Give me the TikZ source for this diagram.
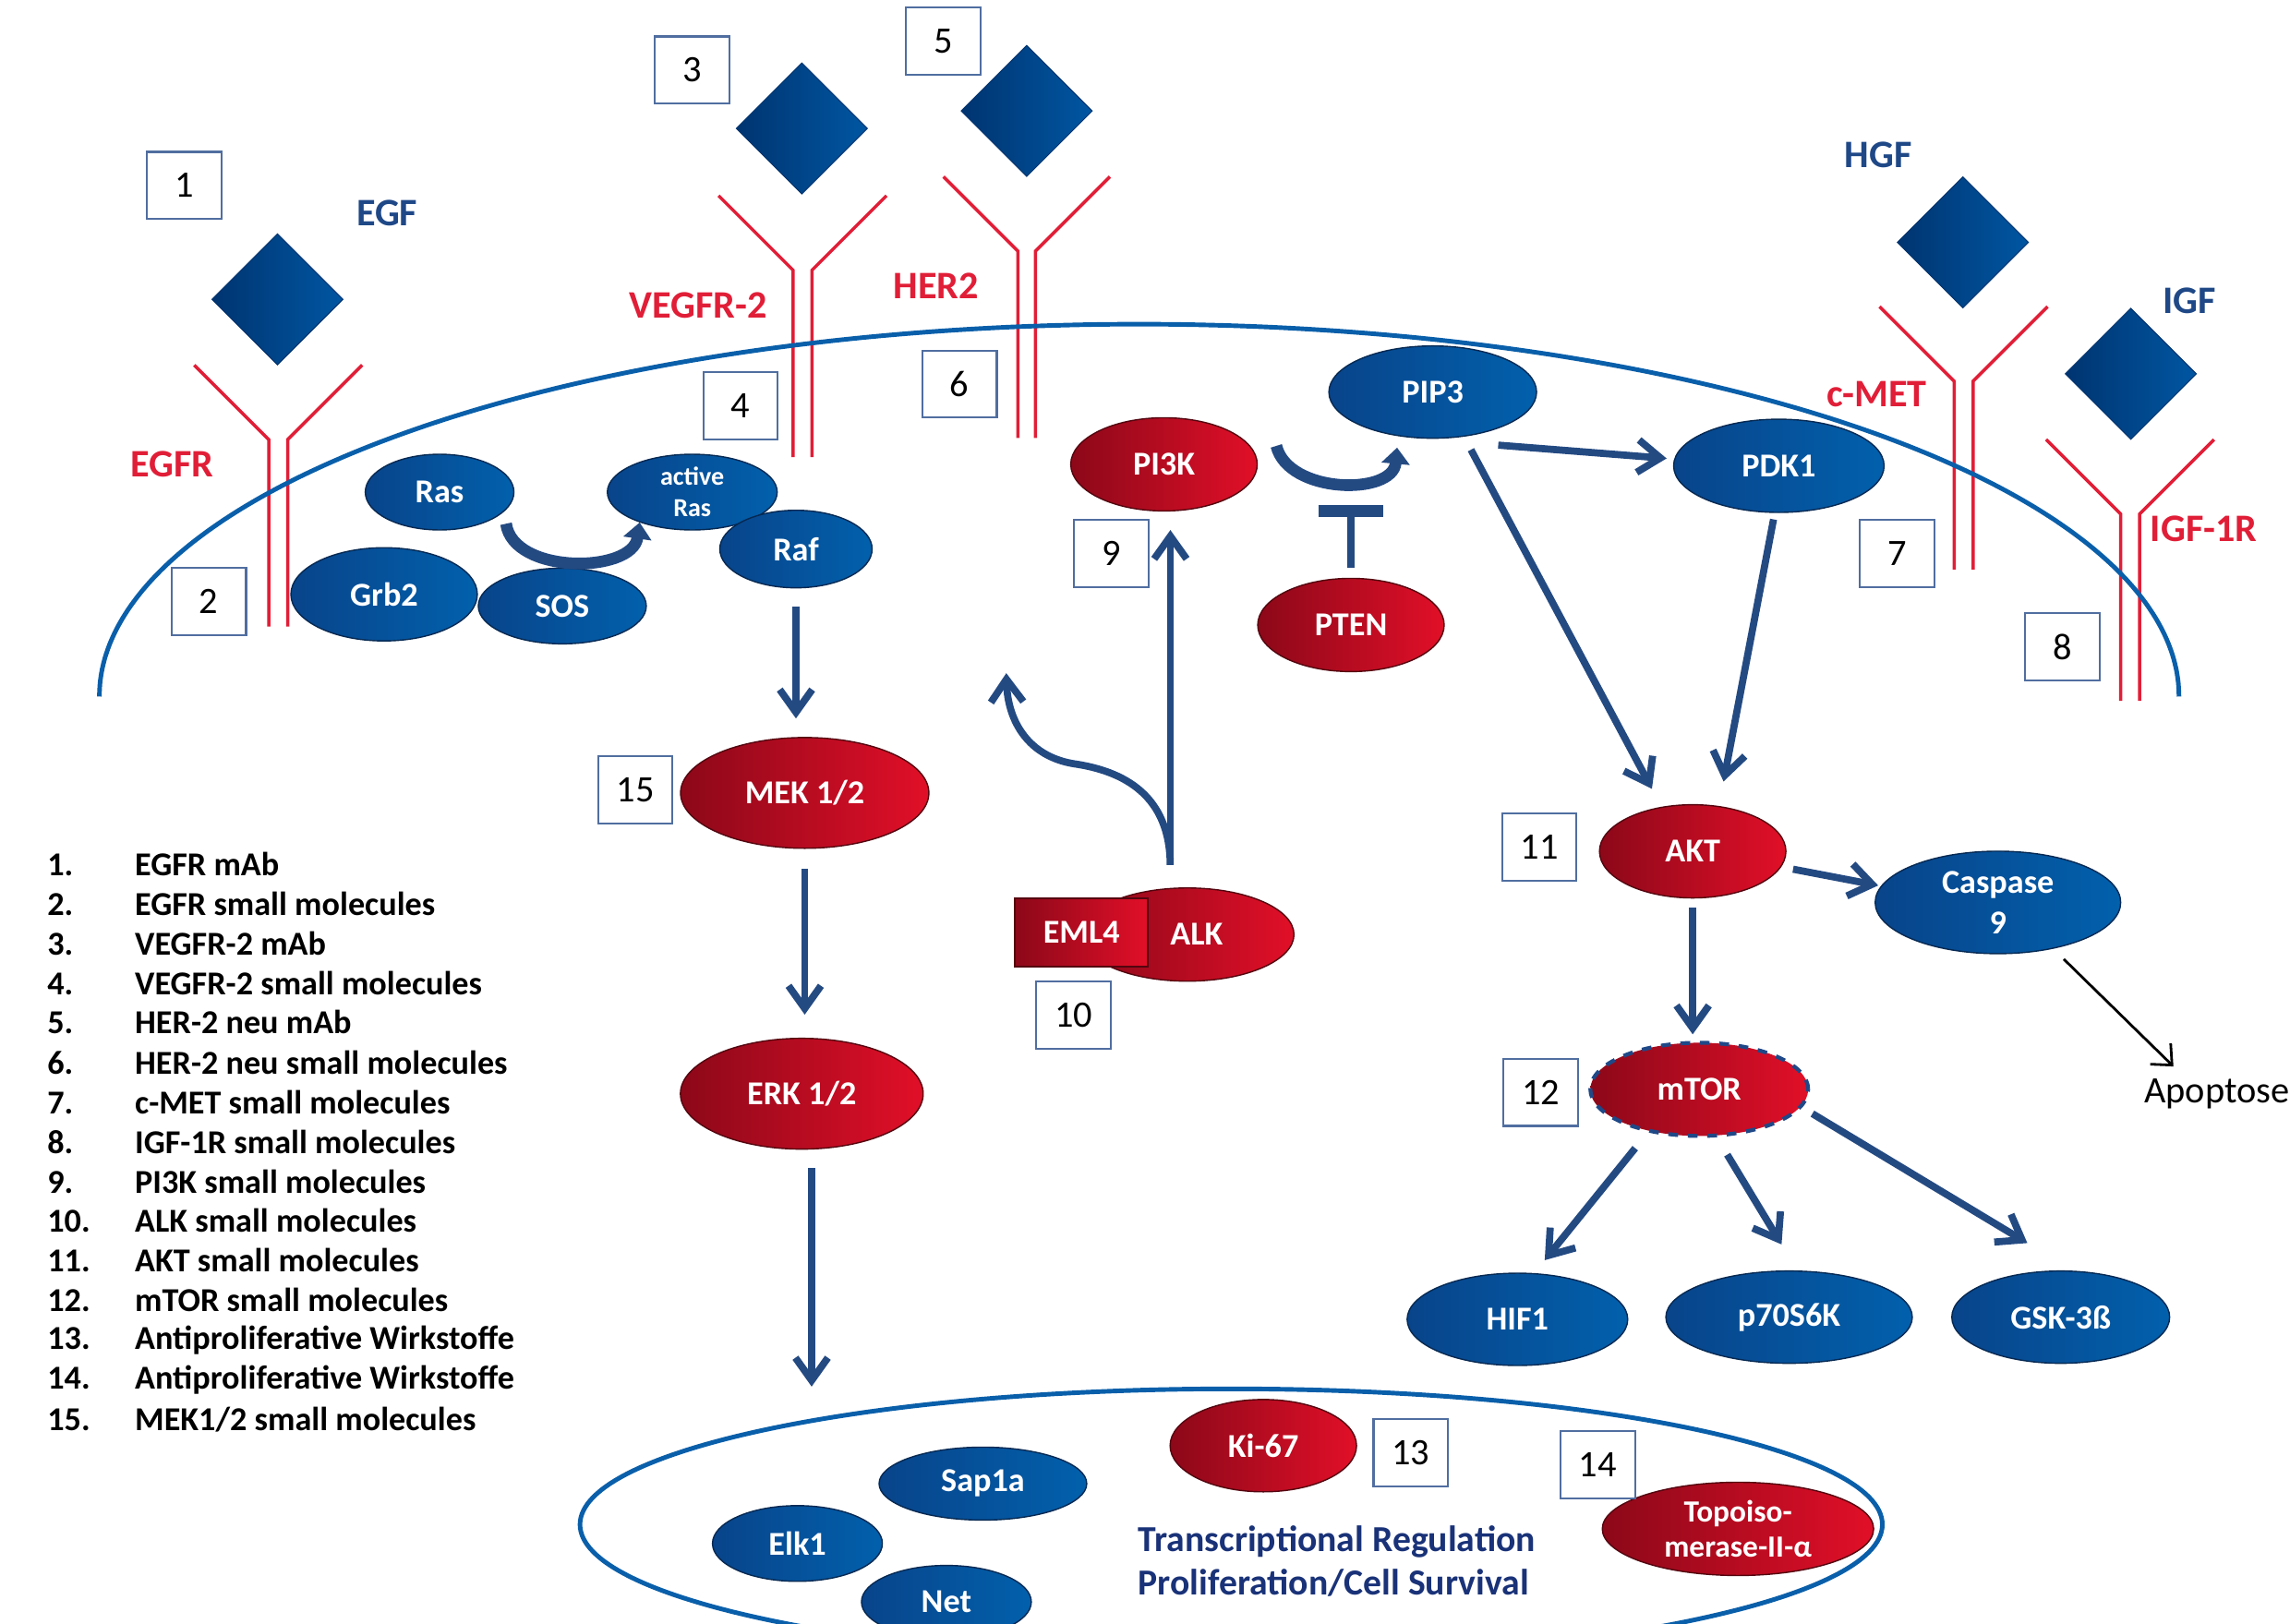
\documentclass[tikz,border=0pt]{standalone}
\usepackage{fontspec}
\setmainfont{Carlito}
\usetikzlibrary{positioning,shapes.geometric,arrows.meta}

\definecolor{memblue}{RGB}{10,95,170}
\definecolor{ligblue}{RGB}{31,72,135}
\definecolor{recred}{RGB}{225,30,55}
\definecolor{arrowblue}{RGB}{36,74,130}
\definecolor{nodeblueA}{RGB}{8,68,138}
\definecolor{nodeblueB}{RGB}{2,96,172}
\definecolor{noderedA}{RGB}{140,8,25}
\definecolor{noderedB}{RGB}{225,15,40}
\definecolor{boxframe}{RGB}{80,110,160}
\definecolor{diaA}{RGB}{0,52,112}
\definecolor{diaB}{RGB}{0,86,162}
\definecolor{nuctext}{RGB}{25,50,120}

\tikzset{
  bnode/.style={ellipse, draw=nodeblueA!60!black, line width=0.4pt, left color=nodeblueA, right color=nodeblueB,
    text=white, font=\bfseries\fontsize{10.3}{12.5}\selectfont, inner sep=0pt, align=center},
  rnode/.style={ellipse, draw=noderedA!60!black, line width=0.4pt, left color=noderedA, right color=noderedB,
    text=white, font=\bfseries\fontsize{10.3}{12.5}\selectfont, inner sep=0pt, align=center},
  numbox/.style={draw=boxframe, line width=0.6pt, fill=white, minimum width=0.807cm, minimum height=0.728cm,
    inner sep=0pt, font=\fontsize{11.5}{12}\selectfont},
  ligand/.style={diamond, aspect=1, minimum size=1.423cm, inner sep=0pt, left color=diaA, right color=diaB,
    draw=diaA, line width=0.3pt},
  receptor/.style={draw=recred, line width=1pt},
  reclabel/.style={text=recred, font=\bfseries\fontsize{12}{14}\selectfont, inner sep=0pt},
  liglabel/.style={text=ligblue, font=\bfseries\fontsize{12}{14}\selectfont, inner sep=0pt},
  sig/.style={->, draw=arrowblue, line width=2.2pt},
  turn/.style={-{Triangle[length=5pt,width=8.5pt]}, draw=arrowblue, line width=3.6pt},
  inhib/.style={-{Bar[width=20pt,line width=3.6pt]}, draw=arrowblue, line width=2.3pt},
  legend/.style={anchor=west, inner sep=0pt, font=\bfseries\fontsize{10.3}{12}\selectfont},
}

\begin{document}
\begin{tikzpicture}[x=0.015816cm, y=-0.015816cm, >={Straight Barb[length=7pt,width=10pt]}]
  \useasboundingbox (0,0) rectangle (1568,1112);
  \clip (0,0) rectangle (1568,1112);

  % ligands
  \node[ligand] (egfdia) at (190,205) {};
  \node[ligand] (vegfdia) at (549,88) {};
  \node[ligand] (herdia) at (703,76) {};
  \node[ligand] (hgfdia) at (1344,166) {};
  \node[ligand] (igfdia) at (1459,256) {};
  \node[liglabel] (egf) at (265,146) {EGF};
  \node[liglabel] (hgf) at (1286,106) {HGF};
  \node[liglabel] (igf) at (1499,206) {IGF};

  % receptors
  \draw[receptor] (133,250) -- (184,301) -- (184,429);
  \draw[receptor] (248,250) -- (197,301) -- (197,429);
  \draw[receptor] (492,134) -- (543,185) -- (543,313);
  \draw[receptor] (607,134) -- (556,185) -- (556,313);
  \draw[receptor] (646,121) -- (697,172) -- (697,300);
  \draw[receptor] (760,121) -- (709,172) -- (709,300);
  \draw[receptor] (1287,210) -- (1338,261) -- (1338,390);
  \draw[receptor] (1402,210) -- (1351,261) -- (1351,390);
  \draw[receptor] (1401,301) -- (1452,352) -- (1452,480);
  \draw[receptor] (1516,301) -- (1465,352) -- (1465,480);
  \node[reclabel] (egfr) at (118,318) {EGFR};
  \node[reclabel] (vegfr) at (478,209) {VEGFR-2};
  \node[reclabel] (her) at (641,196) {HER2};
  \node[reclabel] (cmet) at (1285,270) {c-MET};
  \node[reclabel] (igfr) at (1509,362) {IGF-1R};

  % nucleus
  \node[ellipse, draw=memblue, line width=1.4pt, minimum width=14.11cm, minimum height=2.94cm] (nucleus) at (843,1044) {};

  % Ras / MAPK
  \node[bnode, minimum width=2.02cm, minimum height=1.01cm] (grb) at (263,407) {Grb2};
  \node[bnode, minimum width=1.82cm, minimum height=0.82cm] (sos) at (385,415) {SOS};
  \node[bnode, minimum width=1.61cm, minimum height=0.82cm] (ras) at (301,337) {Ras};
  \node[bnode, minimum width=1.84cm, minimum height=0.82cm, font=\bfseries\fontsize{8}{9.8}\selectfont] (aras) at (474,337) {active\\Ras};
  \node[bnode, minimum width=1.65cm, minimum height=0.84cm] (raf) at (545,376) {Raf};
  \node[rnode, minimum width=2.69cm, minimum height=1.2cm] (mek) at (551,543) {MEK 1/2};
  \node[rnode, minimum width=2.63cm, minimum height=1.2cm] (erk) at (549,749) {ERK 1/2};

  % PI3K / AKT
  \node[bnode, minimum width=2.25cm, minimum height=1.0cm] (pip) at (981,268.5) {PIP3};
  \node[rnode, minimum width=2.02cm, minimum height=1.01cm] (pik) at (797,318) {PI3K};
  \node[bnode, minimum width=2.28cm, minimum height=1.01cm] (pdk) at (1218,319) {PDK1};
  \node[rnode, minimum width=2.02cm, minimum height=1.01cm] (pten) at (925,428) {PTEN};
  \node[rnode, minimum width=2.02cm, minimum height=1.01cm] (akt) at (1159,583) {AKT};
  \node[bnode, minimum width=2.66cm, minimum height=1.11cm, inner sep=-1pt] (casp) at (1368,618) {Caspase\\9};
  \node[rnode, minimum width=2.36cm, minimum height=1.01cm, draw=ligblue, line width=1.2pt, dashed] (mtor) at (1163.5,746) {mTOR};
  \node[bnode, minimum width=2.39cm, minimum height=1.0cm] (hif) at (1039,903.5) {HIF1};
  \node[bnode, minimum width=2.67cm, minimum height=1.0cm] (p70) at (1225,902) {p70S6K};
  \node[bnode, minimum width=2.36cm, minimum height=1.0cm] (gsk) at (1411,902) {GSK-3ß};
  \node[inner sep=2pt, font=\fontsize{11.5}{13}\selectfont] (apo) at (1518,749) {Apoptose};

  % EML4-ALK
  \node[rnode, minimum width=2.31cm, minimum height=1.01cm] (alk) at (813,640) {\hspace*{0.2cm}ALK};
  \node[rectangle, draw=noderedA!60!black, line width=0.6pt, left color=noderedA, right color=noderedB, text=white,
    font=\bfseries\fontsize{10.3}{11}\selectfont, minimum width=1.44cm, minimum height=0.74cm, inner sep=0pt] (eml) at (740.5,638.5) {EML4};

  % nucleus content
  \node[bnode, minimum width=2.25cm, minimum height=0.79cm] (sap) at (673,1016) {Sap1a};
  \node[bnode, minimum width=1.84cm, minimum height=0.82cm] (elk) at (546,1057) {Elk1};
  \node[bnode, minimum width=1.84cm, minimum height=0.79cm] (net) at (648,1097) {Net};
  \node[rnode, minimum width=2.02cm, minimum height=1.0cm] (ki) at (865,990) {Ki-67};
  \node[rnode, minimum width=2.94cm, minimum height=1.01cm, inner sep=-1.5pt, font=\bfseries\fontsize{9.5}{11}\selectfont] (topo) at (1190,1047) {Topoiso-\\merase-II-α};
  \node[anchor=west, align=left, inner sep=0pt, text=nuctext, font=\bfseries\fontsize{11.3}{13.4}\selectfont] (trans) at (779,1069)
    {Transcriptional Regulation\\Proliferation/Cell Survival};

  % membrane
  \draw[memblue, line width=1.4pt] plot[domain=180:0, samples=90, smooth] ({780+712*cos(\x)}, {477-255*sin(\x)});

  % connectors
  \draw[turn] ([yshift=-0.15cm]ras.-15) .. controls +(5,35) and +(-5,35) .. (aras.-150);
  \draw[turn] ([shift={(0.2cm,0.2cm)}]pik.east) .. controls +(8,33) and +(-3,33) .. ([shift={(-0.07cm,-0.115cm)}]pip.237);
  \coordinate (ptenbar) at (925,346);
  \draw[inhib, shorten <=0.11cm] (pten.north) -- (ptenbar);
  \draw[sig, shorten <=0.2cm, shorten >=0.2cm] (raf.south) -- (raf.south |- mek.north);
  \draw[sig, shorten <=0.215cm, shorten >=0.25cm] (mek.south) -- (mek.south |- erk.north);
  \draw[sig, shorten <=0.2cm] (erk.-80) -- (erk.-80 |- nucleus.north);
  \draw[sig, shorten <=0.25cm, shorten >=0.2cm] (alk.110) -- (alk.110 |- pik.south);
  \coordinate (alkout) at (689,461);
  \draw[sig, shorten <=0.25cm] (alk.110) .. controls (801,545) and (770,528) .. (735,523)
    .. controls (705,518) and (690,495) .. (alkout);
  \draw[sig, shorten <=0.1cm, shorten >=0.15cm] ([yshift=-0.14cm]pip.-35) -- ([yshift=-0.12cm]pdk.170);
  \draw[sig, shorten <=0.16cm, shorten >=0.22cm] (pip.-55) -- (akt.125);
  \draw[sig, shorten <=0.07cm, shorten >=0.27cm] (pdk.-95) -- (akt.60);
  \draw[sig, shorten <=0.13cm, shorten >=0.03cm] (akt.-10) -- (casp.172);
  \draw[-{Straight Barb[length=5pt,width=9pt]}, line width=0.8pt, shorten <=0.16cm, shorten >=0.08cm] (casp.-40) -- (apo.150);
  \draw[sig, shorten <=0.1cm, shorten >=0.07cm] (akt.south) -- (akt.south |- mtor.north);
  \draw[sig, shorten <=0.22cm, shorten >=0.18cm] (mtor.-140) -- (hif.70);
  \draw[sig, shorten <=0.22cm, shorten >=0.33cm] (mtor.-70) -- (p70.80);
  \draw[sig, shorten <=0.13cm, shorten >=0.58cm] (mtor.-10) -- (gsk.75);

  % number boxes
  \node[numbox] (b1) at (126,127) {1};
  \node[numbox] (b2) at (143,412) {2};
  \node[numbox] (b3) at (474,48) {3};
  \node[numbox] (b4) at (507,278) {4};
  \node[numbox] (b5) at (646,28) {5};
  \node[numbox] (b6) at (657,263) {6};
  \node[numbox] (b7) at (1299,379) {7};
  \node[numbox] (b8) at (1412,443) {8};
  \node[numbox] (b9) at (761,379) {9};
  \node[numbox] (b10) at (735,695) {10};
  \node[numbox] (b11) at (1054,580) {11};
  \node[numbox] (b12) at (1055,748) {12};
  \node[numbox] (b13) at (966,995) {13};
  \node[numbox] (b14) at (1094,1003) {14};
  \node[numbox] (b15) at (435,541) {15};

  % legend
  \node[legend] (leg1) at (32,592) {\makebox[0.949cm][l]{1.}EGFR mAb};
  \node[legend] (leg2) at (32,619) {\makebox[0.949cm][l]{2.}EGFR small molecules};
  \node[legend] (leg3) at (32,646) {\makebox[0.949cm][l]{3.}VEGFR-2 mAb};
  \node[legend] (leg4) at (32,673) {\makebox[0.949cm][l]{4.}VEGFR-2 small molecules};
  \node[legend] (leg5) at (32,700) {\makebox[0.949cm][l]{5.}HER-2 neu mAb};
  \node[legend] (leg6) at (32,728) {\makebox[0.949cm][l]{6.}HER-2 neu small molecules};
  \node[legend] (leg7) at (32,755) {\makebox[0.949cm][l]{7.}c-MET small molecules};
  \node[legend] (leg8) at (32,782) {\makebox[0.949cm][l]{8.}IGF-1R small molecules};
  \node[legend] (leg9) at (32,809) {\makebox[0.949cm][l]{9.}PI3K small molecules};
  \node[legend] (leg10) at (32,836) {\makebox[0.949cm][l]{10.}ALK small molecules};
  \node[legend] (leg11) at (32,863) {\makebox[0.949cm][l]{11.}AKT small molecules};
  \node[legend] (leg12) at (32,890) {\makebox[0.949cm][l]{12.}mTOR small molecules};
  \node[legend] (leg13) at (32,918) {\makebox[0.949cm][l]{13.}Antiproliferative Wirkstoffe};
  \node[legend] (leg14) at (32,945) {\makebox[0.949cm][l]{14.}Antiproliferative Wirkstoffe};
  \node[legend] (leg15) at (32,972) {\makebox[0.949cm][l]{15.}MEK1/2 small molecules};
\end{tikzpicture}
\end{document}
